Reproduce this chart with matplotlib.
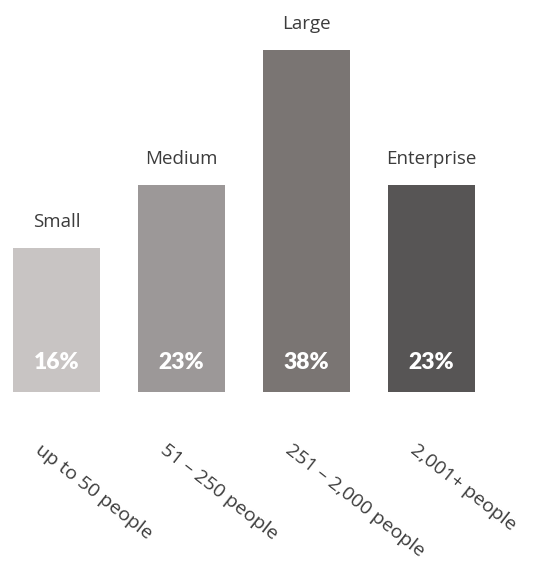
import matplotlib
matplotlib.use('Agg')
from matplotlib import pyplot as plt

# data
sizes    = ['Small', 'Medium', 'Large', 'Enterprise']
ranges   = ['up to 50 people', '51 – 250 people', '251 – 2,000 people', '2,001+ people']
shares   = [16, 23, 38, 23]
colors   = ['#c8c4c3', '#9c9898', '#7a7573', '#575555']

plt.rcParams['font.family'] = ['Open Sans', 'DejaVu Sans']
txt = '#3c3c3c'

W, H = 543, 564
fig = plt.figure(figsize=(W/100., H/100.), dpi=100)
base = 392.          # px from top where bars sit
scale = 9.0          # px per percent
ax = fig.add_axes([0, (H-base)/H, 1, base/H])
ax.set_xlim(-56.5/125., (W-56.5)/125.)
ax.set_ylim(0, base/scale)
ax.axis('off')

xs = list(range(len(sizes)))
ax.bar(xs, shares, width=0.7, color=colors)

for x, v, name, rng in zip(xs, shares, sizes, ranges):
    ax.annotate(name, (x, v), xytext=(0, 21), textcoords='offset pixels',
                ha='center', va='baseline', fontsize=13.5, color=txt)
    ax.annotate('%d%%' % v, (x, 0), xytext=(0, 23), textcoords='offset pixels',
                ha='center', va='baseline', fontsize=16.5, fontweight='heavy',
                color='white', family=['Lato', 'DejaVu Sans'])
    ax.annotate(rng, (x, 0), xytext=(-13, -49), textcoords='offset pixels',
                ha='left', va='top', rotation=-38, rotation_mode='anchor',
                fontsize=14, color=txt, annotation_clip=False)

fig.savefig('out.png', dpi=100)
